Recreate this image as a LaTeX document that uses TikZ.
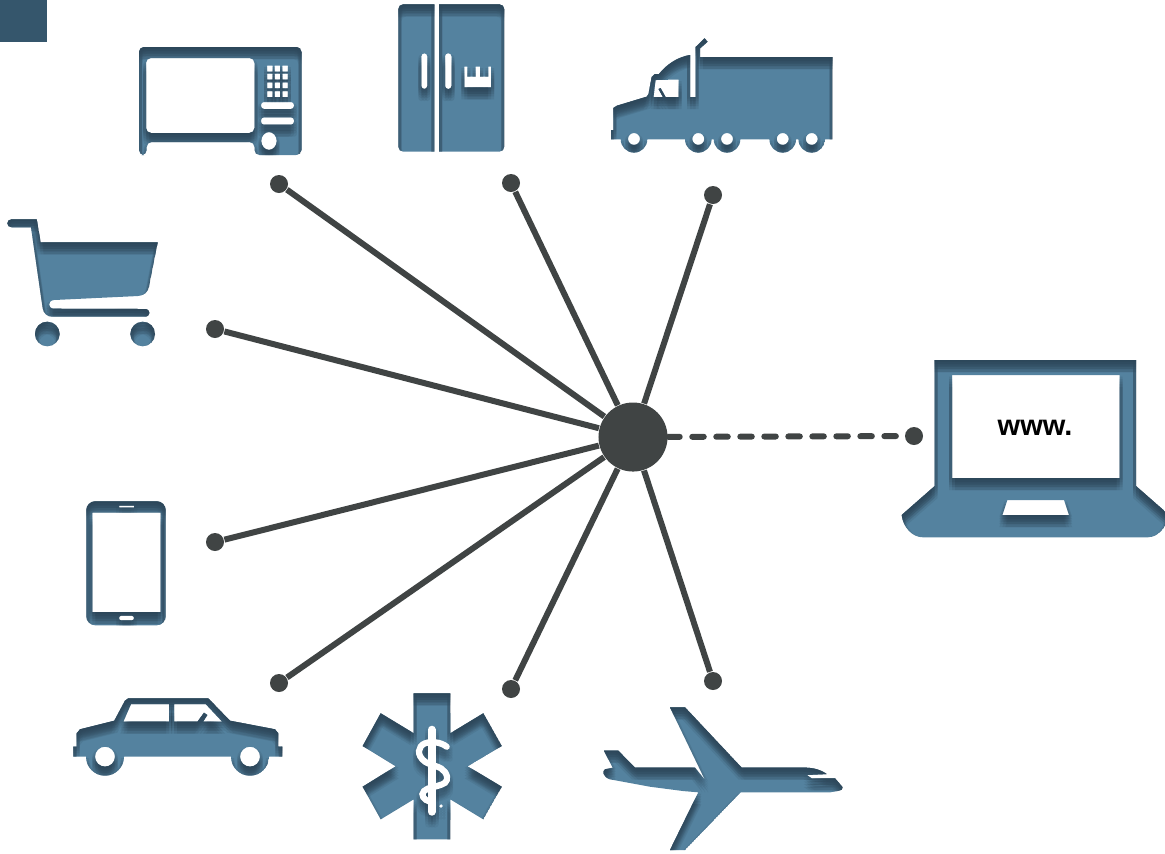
\documentclass[tikz,border=0pt]{standalone}
\usepackage{fontspec}
\setmainfont{Liberation Sans}
\definecolor{iconblue}{HTML}{54829F}
\definecolor{shadowink}{HTML}{2B4355}
\definecolor{cornerblue}{HTML}{35566C}
\definecolor{wirecolor}{HTML}{404444}
\tikzset{
         hubdot/.style={shape=circle,fill=wirecolor,inner sep=0,minimum size=.69cm},
         enddot/.style={shape=circle,fill=wirecolor,inner sep=0,minimum size=.18cm},
         wire/.style={draw=wirecolor,line width=.06cm},
         shadowlayer/.style={even odd rule,fill=shadowink,opacity=.14}
        }
\newcommand{\inseticon}[1]{
\begin{scope}
\pgfseteorule
\clip #1;
\fill[even odd rule,iconblue] #1;
\foreach \dy in {1.5,4,6.5,9,12}{
\foreach \dx in {-3,0,3}{
\path[shadowlayer,shift={(\dx,\dy)}](-100,-100)rectangle(1300,1000) #1;
}}
\end{scope}
}
\newcommand{\rodsnake}[1]{
\draw[#1,line width=.08cm,line cap=round](431.7,729.7)--(431.7,811.7);
\draw[#1,line width=.062cm,line cap=round](446.7,746.7)..controls(441,742)and(431,741)..(425,743.3)
..controls(418,746)and(416,755)..(425,761.7)..controls(432,766)and(441,766)..(445,772)
..controls(449,778)and(447,783)..(441.7,784.5)..controls(436,787)and(428,787)..(424,791)
..controls(420,795)and(424,800)..(430,801.7);
\fill[#1](441,806)circle(1.8);
}
\begin{document}
\begin{tikzpicture}[x=.01cm,y=-.01cm]
\useasboundingbox(0,0)rectangle(1165,853);
%corner patch
\fill[cornerblue](0,0)rectangle(47,42);
%microwave
\inseticon{[rounded corners=.05cm](139,47)--(301.5,47)--(301.5,155)--(254.5,155)--(254.5,142)--(146.7,142)--(146.7,155)--(139,155)--cycle
(146,58)rectangle(254.5,133)
[rounded corners=.03cm](261,102)rectangle(294,109)(261,117.3)rectangle(294,124.7)
[sharp corners](269,141)ellipse(7.7 and 9)
\foreach \x in {267,274.7,282.4}{\foreach \y in {65.5,73.7,82.3,91}{(\x,\y)rectangle(\x+5.5,\y+6)}}}
%fridge
\inseticon{[sharp corners](434.3,4.3)[rounded corners=.05cm]--(398.3,4.3)--(398.3,151.7)[sharp corners]--(434.3,151.7)--cycle
(439,4.3)[rounded corners=.05cm]--(504.3,4.3)--(504.3,151.7)[sharp corners]--(439,151.7)--cycle
[rounded corners=.03cm](421.3,53.3)rectangle(427.3,89)(445,53.3)rectangle(451.5,89)
[sharp corners](464.3,66.7)--(467.3,66.7)--(467.3,76.5)--(475.7,76.5)--(475.7,66.7)--(480,66.7)--(480,76.5)--(488.3,76.5)--(488.3,66.7)--(491,66.7)--(491,87.3)--(464.3,87.3)--cycle}
%truck
\inseticon{(832.7,57)--(832.7,139.3)--(825,139.3)arc(0:180:13.3)--(796,139.3)arc(0:180:13.3)--(740.3,139.3)arc(0:180:13.3)
--(711.6,139.3)arc(0:180:13.3)--(647.3,139.3)arc(0:180:13.3)--(611,139.3)--(611,130)--(613.3,130)--(613.3,108)--(617,105.7)--(646.7,96.7)
--(648.5,94)--(651.7,77)--(655,74)--(659,74)..controls(667,64)and(678,57)..(690,55)--(690,97)--(695.7,97)--(695.7,47)--(704.5,38.3)--(707.5,41.7)--(700,48.5)--(700,57)--cycle
(655.5,80)--(678.5,79.5)--(678.5,97)--(665.5,97)--(660.5,88)--(658.5,89)--(663,97)--(653.5,97)--cycle
(634,139)circle(6)(698.3,139)circle(6)(727,139)circle(6)(782.7,139)circle(6)(811.7,139)circle(6)}
%shopping cart
\inseticon{(36.7,219.3)--(40.7,242.3)--(157.7,242.3)--(149.5,284)..controls(148.5,292)and(145,295.5)..(138,296)--(54,300)
..controls(47.5,300.5)and(47.5,308.7)..(54,308.7)--(145.7,309)..controls(150.5,309)and(150.5,316.7)..(145.7,316.7)--(52,316.7)
..controls(47,316.7)and(43.5,313)..(42.7,308.3)--(31,227.3)--(11.7,227.3)..controls(6,227.3)and(6,219.3)..(11.7,219.3)--cycle
(47.3,334)circle(12.3)(142.7,334)circle(12.3)}
%phone
\inseticon{[rounded corners=.09cm](86.3,501.3)rectangle(165.7,625.3)
[sharp corners](92.3,512.7)rectangle(160.7,612)(119,505.7)rectangle(134,507.7)
[rounded corners=.02cm](119,615.7)rectangle(134,620.3)}
%car
\inseticon{(282.3,756.7)--(282.3,746.7)--(278.3,746.7)--(278.3,733.3)--(275,729.3)--(230,720.7)--(208.3,698.3)--(128.3,698.3)--(125,700.7)--(114.3,720.7)
--(80,729.3)--(76.7,733.3)--(76.7,746.7)--(73.3,746.7)--(73.3,756.7)--(86,756.7)arc(180:0:19)--(231,756.7)arc(180:0:19)--cycle
(131,704)--(169,704)--(169,721.7)--(123.3,721.7)--cycle
(174,704)--(205.7,704)--(222.3,721.7)--(203,721.7)--(207.3,715)--(204,712.7)--(197.5,721.7)--(174,721.7)--cycle
(105,756.7)circle(10)(250,756.7)circle(10)}
%star with rod
\inseticon{(450.3,693.3)--(450.3,733.3)--(483.3,713.3)--(501.7,746)--(467.7,766.3)--(501.7,786.7)--(483.3,819.3)--(450.3,799.3)--(450.3,839.3)
--(413.7,839.3)--(413.7,799.3)--(380.7,819.3)--(362.7,786.7)--(395.7,766.3)--(362.7,746)--(380.7,713.3)--(413.7,733.3)--(413.7,693.3)--cycle}
\foreach \dy in {1.5,4,6.5,9,12}{
\foreach \dx in {-3,0,3}{
\begin{scope}[shift={(\dx,\dy)},opacity=.09]
\rodsnake{shadowink}
\end{scope}
}}
\rodsnake{white}
%plane
\inseticon{(670,707.3)--(685,707.3)--(741.7,767.7)--(806.7,767.7)..controls(815,768)and(822,770.5)..(826.7,774)--(806.7,775)--(811.7,778.3)--(835,778.3)--(842.7,787.3)
..controls(842.7,789.5)and(841,790.5)..(838,790.9)--(830,792.3)--(740.7,792.3)--(685,850)--(670,850)--(698.3,792.3)--(683,791)--(650,786.7)--(610,779.3)
..controls(603,777)and(602,771)..(605,769.3)--(612.7,767.7)--(604,750.7)--(618.3,750.7)--(635,767.7)--(695,767.7)--(705,780)--cycle}
%laptop
\inseticon{(934.7,360)--(1136,360)--(1136,486)--(1169,515)..controls(1167,527)and(1158,537.3)..(1147.7,537.3)--(923,537.3)
..controls(912,537.3)and(903,527)..(901.7,515)--(934.7,486)--cycle
(952,375)rectangle(1119.7,478)
(1007.3,500)--(1064,500)--(1069,515)--(1002.3,515)--cycle}
\node[font=\bfseries\fontsize{8.25}{10}\selectfont,anchor=base,inner sep=0](www)at(1035,435){www.};
%hub and spokes
\node[hubdot](hub)at(633,437){};
\node[enddot](dotmicrowave)at(279,184){};
\node[enddot](dotfridge)at(511,183){};
\node[enddot](dottruck)at(713,195){};
\node[enddot](dotcart)at(215,329){};
\node[enddot](dotphone)at(215,542){};
\node[enddot](dotcar)at(279,683){};
\node[enddot](dotstar)at(511,689){};
\node[enddot](dotplane)at(713,681){};
\node[enddot](dotlaptop)at(914,436){};
\foreach \name in {microwave,fridge,truck,cart,phone,car,star,plane}{
\draw[wire](hub)--(dot\name);
}
\draw[wire,line cap=round,dash pattern=on .115cm off .125cm](hub)--(dotlaptop);
\end{tikzpicture}
\end{document}
